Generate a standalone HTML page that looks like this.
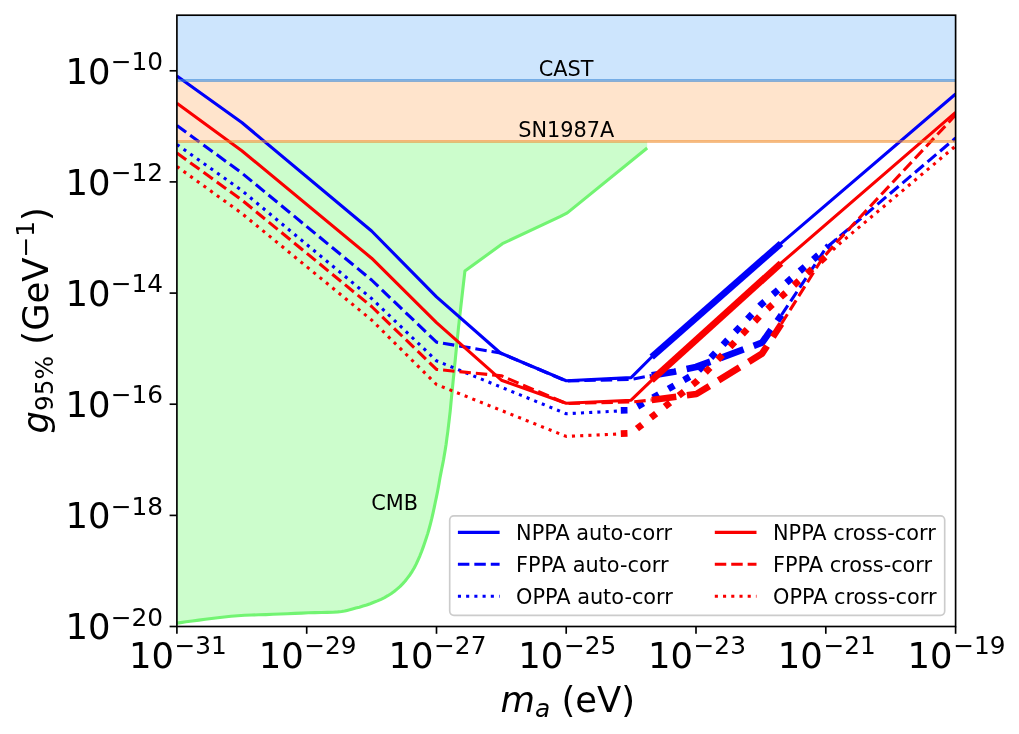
<!DOCTYPE html>
<html lang="en"><head><meta charset="utf-8"><title>g95% vs m_a</title>
<style>html,body{margin:0;padding:0;background:#fff}svg{display:block}text{font-family:"DejaVu Sans","Liberation Sans",sans-serif;fill:#000}.it{font-style:oblique}</style></head><body>
<svg width="1019" height="734" viewBox="0 0 1019 734">
<rect width="1019" height="734" fill="#fff"/>
<defs><clipPath id="ax"><rect x="176.9" y="15.2" width="778.7" height="611.3"/></clipPath></defs>
<g clip-path="url(#ax)">
<rect x="176.9" y="15.2" width="778.7" height="65.3" fill="#cde5fd"/>
<rect x="176.9" y="80.5" width="778.7" height="61.0" fill="#ffe4cc"/>
<path d="M176.9 623.1 L180.7 622.6 L186.0 621.8 L192.3 621.0 L198.9 620.1 L205.3 619.3 L211.5 618.5 L217.8 617.7 L224.3 617.0 L231.0 616.3 L237.7 615.7 L244.6 615.3 L251.6 615.0 L258.7 614.8 L265.9 614.6 L273.0 614.3 L280.2 614.0 L287.4 613.7 L294.7 613.4 L301.7 613.1 L308.4 612.8 L314.9 612.6 L321.3 612.5 L327.4 612.4 L333.0 612.2 L337.8 611.9 L341.6 611.5 L344.6 611.0 L347.1 610.4 L349.6 609.8 L352.5 609.0 L355.8 608.1 L359.4 607.2 L363.0 606.1 L366.6 605.0 L370.2 603.7 L373.8 602.3 L377.4 600.9 L381.0 599.3 L384.5 597.6 L387.8 595.7 L391.0 593.7 L394.1 591.5 L397.0 589.1 L399.9 586.6 L402.6 583.9 L405.2 581.0 L407.6 577.9 L410.0 574.7 L412.2 571.3 L414.3 567.7 L416.3 563.9 L418.1 559.9 L419.9 555.8 L421.6 551.5 L423.2 547.1 L424.8 542.6 L426.3 538.1 L427.8 533.4 L429.2 528.5 L430.5 523.6 L431.8 518.4 L433.0 513.1 L434.2 507.6 L435.3 502.3 L436.4 497.1 L437.4 492.2 L438.3 487.5 L439.1 482.9 L439.9 478.3 L440.8 473.6 L441.7 469.0 L442.6 464.6 L443.5 460.0 L444.3 455.3 L445.2 450.0 L446.1 444.2 L446.9 438.1 L447.8 431.6 L448.6 424.9 L449.4 418.1 L450.2 411.1 L450.9 403.7 L451.6 396.3 L452.4 388.7 L453.1 381.3 L453.9 373.7 L454.6 366.0 L455.4 358.3 L456.1 351.1 L456.8 344.5 L457.4 338.4 L458.0 332.6 L458.5 327.4 L459.0 323.1 L459.3 320.0 L464.9 271.1 L502.4 243.7 L560.0 216.6 L567.3 212.9 L647.2 148.0 L647.2 141.5 L176.9 141.5 Z" fill="#ccfdcc"/>
<path d="M176.9 623.1 L180.7 622.6 L186.0 621.8 L192.3 621.0 L198.9 620.1 L205.3 619.3 L211.5 618.5 L217.8 617.7 L224.3 617.0 L231.0 616.3 L237.7 615.7 L244.6 615.3 L251.6 615.0 L258.7 614.8 L265.9 614.6 L273.0 614.3 L280.2 614.0 L287.4 613.7 L294.7 613.4 L301.7 613.1 L308.4 612.8 L314.9 612.6 L321.3 612.5 L327.4 612.4 L333.0 612.2 L337.8 611.9 L341.6 611.5 L344.6 611.0 L347.1 610.4 L349.6 609.8 L352.5 609.0 L355.8 608.1 L359.4 607.2 L363.0 606.1 L366.6 605.0 L370.2 603.7 L373.8 602.3 L377.4 600.9 L381.0 599.3 L384.5 597.6 L387.8 595.7 L391.0 593.7 L394.1 591.5 L397.0 589.1 L399.9 586.6 L402.6 583.9 L405.2 581.0 L407.6 577.9 L410.0 574.7 L412.2 571.3 L414.3 567.7 L416.3 563.9 L418.1 559.9 L419.9 555.8 L421.6 551.5 L423.2 547.1 L424.8 542.6 L426.3 538.1 L427.8 533.4 L429.2 528.5 L430.5 523.6 L431.8 518.4 L433.0 513.1 L434.2 507.6 L435.3 502.3 L436.4 497.1 L437.4 492.2 L438.3 487.5 L439.1 482.9 L439.9 478.3 L440.8 473.6 L441.7 469.0 L442.6 464.6 L443.5 460.0 L444.3 455.3 L445.2 450.0 L446.1 444.2 L446.9 438.1 L447.8 431.6 L448.6 424.9 L449.4 418.1 L450.2 411.1 L450.9 403.7 L451.6 396.3 L452.4 388.7 L453.1 381.3 L453.9 373.7 L454.6 366.0 L455.4 358.3 L456.1 351.1 L456.8 344.5 L457.4 338.4 L458.0 332.6 L458.5 327.4 L459.0 323.1 L459.3 320.0 L464.9 271.1 L502.4 243.7 L560.0 216.6 L567.3 212.9 L647.2 148.0" fill="none" stroke="#72f472" stroke-width="3.1" stroke-linejoin="round"/>
<path d="M176.9 76.0 L241.8 122.5 L371.6 231.0 L436.5 296.9 L500.4 353.0 L566.2 380.8 L631.1 377.6 L651.7 357.0 L781.0 243.4 L955.6 94.0" fill="none" stroke="#0000fa" stroke-width="3.1" stroke-linejoin="round"/>
<path d="M651.7 357.0 L781.0 243.4" fill="none" stroke="#0000fa" stroke-width="6.7" stroke-linejoin="round"/>
<path d="M176.9 125.5 L241.8 173.0 L371.6 280.0 L436.5 342.1 L500.4 353.0 L566.2 381.0 L631.1 379.4 L651.7 375.4" fill="none" stroke="#0000fa" stroke-width="3.1" stroke-linejoin="round" stroke-dasharray="11.47 4.96"/>
<path d="M651.7 375.4 L674.4 371.7 L696.0 367.0 L762.0 342.7 L781.5 315.0" fill="none" stroke="#0000fa" stroke-width="6.7" stroke-linejoin="round" stroke-dasharray="24.79 10.72"/>
<path d="M781.5 315.0 L826.0 248.0 L955.6 138.0" fill="none" stroke="#0000fa" stroke-width="3.1" stroke-linejoin="round" stroke-dasharray="11.47 4.96"/>
<path d="M176.9 144.5 L241.8 190.5 L371.6 298.5 L436.5 360.8 L566.2 413.7 L620.8 410.9" fill="none" stroke="#0000fa" stroke-width="3.1" stroke-linejoin="round" stroke-dasharray="3.10 5.12"/>
<path d="M620.8 410.4 L631.1 410.2 L696.4 372.9 L760.9 304.8 L828.8 246.0" fill="none" stroke="#0000fa" stroke-width="6.7" stroke-linejoin="round" stroke-dasharray="6.70 11.05"/>
<path d="M828.8 246.0 L850.0 228.5" fill="none" stroke="#0000fa" stroke-width="3.1" stroke-linejoin="round" stroke-dasharray="3.10 5.12"/>
<path d="M176.9 103.2 L241.8 150.7 L371.6 258.2 L436.5 322.7 L501.4 380.2 L566.2 403.3 L631.1 400.2 L651.6 380.3 L781.0 263.2 L955.6 112.3" fill="none" stroke="#fa0000" stroke-width="3.1" stroke-linejoin="round"/>
<path d="M651.6 380.3 L781.0 263.2" fill="none" stroke="#fa0000" stroke-width="6.7" stroke-linejoin="round"/>
<path d="M176.9 153.0 L241.8 200.0 L371.6 306.5 L436.5 369.4 L501.4 375.8 L566.2 403.5 L631.1 402.0 L651.7 400.0" fill="none" stroke="#fa0000" stroke-width="3.1" stroke-linejoin="round" stroke-dasharray="11.47 4.96"/>
<path d="M651.7 400.0 L696.4 394.0 L762.0 353.7 L781.3 324.0" fill="none" stroke="#fa0000" stroke-width="6.7" stroke-linejoin="round" stroke-dasharray="24.79 10.72"/>
<path d="M781.3 324.0 L822.0 259.0 L836.0 243.0 L955.6 115.0" fill="none" stroke="#fa0000" stroke-width="3.1" stroke-linejoin="round" stroke-dasharray="11.47 4.96"/>
<path d="M176.9 166.5 L241.8 213.4 L371.6 320.0 L436.5 384.5 L566.2 436.4 L620.8 433.9" fill="none" stroke="#fa0000" stroke-width="3.1" stroke-linejoin="round" stroke-dasharray="3.10 5.12"/>
<path d="M620.8 433.7 L631.1 433.3 L696.4 381.7 L760.9 315.0 L833.0 250.0" fill="none" stroke="#fa0000" stroke-width="6.7" stroke-linejoin="round" stroke-dasharray="6.70 11.05"/>
<path d="M833.0 250.0 L840.0 243.3 L955.6 146.0" fill="none" stroke="#fa0000" stroke-width="3.1" stroke-linejoin="round" stroke-dasharray="3.10 5.12"/>
<path d="M176.9 80.5 H955.6" stroke="#3585d6" stroke-opacity="0.58" stroke-width="3.1"/>
<path d="M176.9 141.5 H955.6" stroke="#ee8c2c" stroke-opacity="0.55" stroke-width="3.1"/>
</g>
<text x="538.8" y="75.8" font-size="20.83">CAST</text>
<text x="518.2" y="136.9" font-size="20.83">SN1987A</text>
<text x="371.3" y="510.3" font-size="20.83">CMB</text>
<rect x="176.9" y="15.2" width="778.7" height="611.3" fill="none" stroke="#000" stroke-width="1.67"/>
<path d="M176.9 626.5 v7.3" stroke="#000" stroke-width="1.67"/>
<text x="128.9" y="667.7" font-size="35.4">10</text>
<text x="174.5" y="654.2" font-size="24.8">−31</text>
<path d="M306.7 626.5 v7.3" stroke="#000" stroke-width="1.67"/>
<text x="258.7" y="667.7" font-size="35.4">10</text>
<text x="304.3" y="654.2" font-size="24.8">−29</text>
<path d="M436.5 626.5 v7.3" stroke="#000" stroke-width="1.67"/>
<text x="388.5" y="667.7" font-size="35.4">10</text>
<text x="434.1" y="654.2" font-size="24.8">−27</text>
<path d="M566.2 626.5 v7.3" stroke="#000" stroke-width="1.67"/>
<text x="518.2" y="667.7" font-size="35.4">10</text>
<text x="563.9" y="654.2" font-size="24.8">−25</text>
<path d="M696.0 626.5 v7.3" stroke="#000" stroke-width="1.67"/>
<text x="648.0" y="667.7" font-size="35.4">10</text>
<text x="693.6" y="654.2" font-size="24.8">−23</text>
<path d="M825.8 626.5 v7.3" stroke="#000" stroke-width="1.67"/>
<text x="777.8" y="667.7" font-size="35.4">10</text>
<text x="823.4" y="654.2" font-size="24.8">−21</text>
<path d="M955.6 626.5 v7.3" stroke="#000" stroke-width="1.67"/>
<text x="907.6" y="667.7" font-size="35.4">10</text>
<text x="953.2" y="654.2" font-size="24.8">−19</text>
<path d="M176.9 626.5 h-7.3" stroke="#000" stroke-width="1.67"/>
<text x="65.6" y="639.2" font-size="35.4">10</text>
<text x="110.8" y="625.7" font-size="24.8">−20</text>
<path d="M176.9 515.4 h-7.3" stroke="#000" stroke-width="1.67"/>
<text x="65.6" y="528.1" font-size="35.4">10</text>
<text x="110.8" y="514.6" font-size="24.8">−18</text>
<path d="M176.9 404.2 h-7.3" stroke="#000" stroke-width="1.67"/>
<text x="65.6" y="416.9" font-size="35.4">10</text>
<text x="110.8" y="403.4" font-size="24.8">−16</text>
<path d="M176.9 293.1 h-7.3" stroke="#000" stroke-width="1.67"/>
<text x="65.6" y="305.8" font-size="35.4">10</text>
<text x="110.8" y="292.3" font-size="24.8">−14</text>
<path d="M176.9 181.9 h-7.3" stroke="#000" stroke-width="1.67"/>
<text x="65.6" y="194.6" font-size="35.4">10</text>
<text x="110.8" y="181.1" font-size="24.8">−12</text>
<path d="M176.9 70.8 h-7.3" stroke="#000" stroke-width="1.67"/>
<text x="65.6" y="83.5" font-size="35.4">10</text>
<text x="110.8" y="70.0" font-size="24.8">−10</text>
<text y="711.8" font-size="35.4"><tspan x="500.5" class="it">m</tspan><tspan class="it" font-size="24.8" dy="4.7">a</tspan><tspan dy="-4.7"> (eV)</tspan></text>
<g transform="translate(47.6 433.5) rotate(-90)"><text font-size="35.4"><tspan class="it">g</tspan><tspan font-size="24.8" dy="5.6">95%</tspan><tspan dy="-5.6"> (GeV</tspan><tspan font-size="24.8" dy="-13.5">−1</tspan><tspan dy="13.5">)</tspan></text></g>
<rect x="449.7" y="515.8" width="495" height="99.5" rx="4.2" fill="#fff" fill-opacity="0.8" stroke="#ccc" stroke-width="1.67"/>
<path d="M457.9 532.4 h41.7" stroke="#0000fa" stroke-width="3.1"/>
<text x="516.1" y="540.0" font-size="20.83">NPPA auto-corr</text>
<path d="M457.9 564.3 h41.7" stroke="#0000fa" stroke-width="3.1" stroke-dasharray="11.47 4.96"/>
<text x="516.1" y="571.9" font-size="20.83">FPPA auto-corr</text>
<path d="M457.9 596.2 h41.7" stroke="#0000fa" stroke-width="3.1" stroke-dasharray="3.10 5.12"/>
<text x="516.1" y="603.8" font-size="20.83">OPPA auto-corr</text>
<path d="M714.8 532.4 h41.7" stroke="#fa0000" stroke-width="3.1"/>
<text x="773.0" y="540.0" font-size="20.83">NPPA cross-corr</text>
<path d="M714.8 564.3 h41.7" stroke="#fa0000" stroke-width="3.1" stroke-dasharray="11.47 4.96"/>
<text x="773.0" y="571.9" font-size="20.83">FPPA cross-corr</text>
<path d="M714.8 596.2 h41.7" stroke="#fa0000" stroke-width="3.1" stroke-dasharray="3.10 5.12"/>
<text x="773.0" y="603.8" font-size="20.83">OPPA cross-corr</text>
</svg></body></html>
